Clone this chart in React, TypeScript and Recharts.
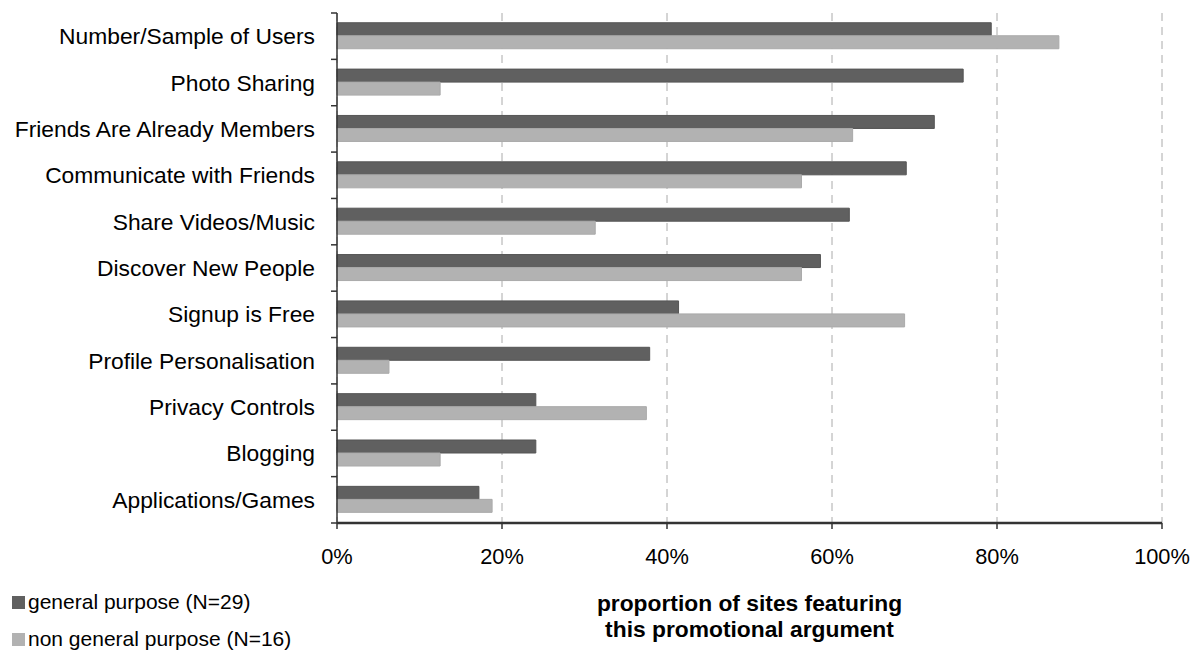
import { Bar, BarChart, CartesianGrid, XAxis, YAxis, Label } from "recharts";

// Categorias (de cima para baixo)
const categories = [
  "Number/Sample of Users",
  "Photo Sharing",
  "Friends Are Already Members",
  "Communicate with Friends",
  "Share Videos/Music",
  "Discover New People",
  "Signup is Free",
  "Profile Personalisation",
  "Privacy Controls",
  "Blogging",
  "Applications/Games",
];

// Percentuais
const generalPurpose = [79.3, 75.9, 72.4, 69.0, 62.1, 58.6, 41.4, 37.9, 24.1, 24.1, 17.2];
const nonGeneralPurpose = [87.5, 12.5, 62.5, 56.3, 31.3, 56.3, 68.8, 6.3, 37.5, 12.5, 18.8];

const xTicks = [0, 20, 40, 60, 80, 100];

const series = [
  { key: "general", name: "general purpose (N=29)", color: "#606060", stroke: "#555" },
  { key: "nonGeneral", name: "non general purpose (N=16)", color: "#b2b2b2", stroke: "#aaa" },
];

const data = categories.map((name, i) => ({
  name,
  general: generalPurpose[i],
  nonGeneral: nonGeneralPurpose[i],
}));

const W = 1199;
const H = 651;
const TOP = 13;
const X_AXIS_H = 128;
const BAND = (H - TOP - X_AXIS_H) / categories.length;
const FONT = "'Liberation Sans', Arial, sans-serif";

// Rótulo do eixo Y com marca de divisão entre categorias
function CategoryTick(props: any) {
  const { x, y, payload, index } = props;
  const ax = x + 8; // posição da linha do eixo
  const last = index === categories.length - 1;
  return (
    <g>
      <line x1={ax - 6} x2={ax} y1={y - BAND / 2} y2={y - BAND / 2} stroke="#333" strokeWidth={1.5} />
      {last && (
        <line x1={ax - 6} x2={ax} y1={y + BAND / 2} y2={y + BAND / 2} stroke="#333" strokeWidth={1.5} />
      )}
      <text x={ax - 22} y={y} dy="0.35em" textAnchor="end" fontSize={22.8} fill="#000" fontFamily={FONT}>
        {payload.value}
      </text>
    </g>
  );
}

function AxisTitle(props: any) {
  const { viewBox } = props;
  const cx = viewBox.x + viewBox.width / 2;
  return (
    <text textAnchor="middle" fontSize={22.8} fontWeight="bold" fill="#000" fontFamily={FONT}>
      <tspan x={cx} y={viewBox.y + 88}>proportion of sites featuring</tspan>
      <tspan x={cx} y={viewBox.y + 114}>this promotional argument</tspan>
    </text>
  );
}

export default function App() {
  return (
    <div style={{ position: "absolute", left: 0, top: 0, width: W, height: H, background: "#fff", fontFamily: FONT }}>
      <BarChart
        width={W}
        height={H}
        data={data}
        layout="vertical"
        margin={{ top: TOP, right: 37, left: 0, bottom: 0 }}
        barCategoryGap="21%"
        barGap={0}
      >
        <CartesianGrid horizontal={false} stroke="#aaa" strokeDasharray="8 6" />
        <XAxis
          type="number"
          domain={[0, 100]}
          ticks={xTicks}
          tickFormatter={(v) => `${v}%`}
          height={X_AXIS_H}
          axisLine={{ stroke: "#333", strokeWidth: 2.5 }}
          tickLine={{ stroke: "#333", strokeWidth: 1.5 }}
          tickSize={6}
          tickMargin={20}
          tick={{ fontSize: 21.8, fill: "#000", fontFamily: FONT }}
        >
          <Label content={<AxisTitle />} />
        </XAxis>
        <YAxis
          type="category"
          dataKey="name"
          width={337}
          axisLine={{ stroke: "#333", strokeWidth: 1.5 }}
          tickLine={false}
          tick={<CategoryTick />}
          interval={0}
        />
        {series.map((s) => (
          <Bar
            key={s.key}
            dataKey={s.key}
            name={s.name}
            fill={s.color}
            stroke={s.stroke}
            strokeWidth={1}
            isAnimationActive={false}
          />
        ))}
      </BarChart>
      {/* Legenda */}
      <div style={{ position: "absolute", left: 12, top: 590, fontSize: 21, color: "#000" }}>
        {series.map((s) => (
          <div key={s.key} style={{ display: "flex", alignItems: "center", height: 24, marginBottom: 13 }}>
            <span style={{ width: 13, height: 13, background: s.color, marginRight: 3, display: "inline-block" }} />
            <span>{s.name}</span>
          </div>
        ))}
      </div>
    </div>
  );
}
